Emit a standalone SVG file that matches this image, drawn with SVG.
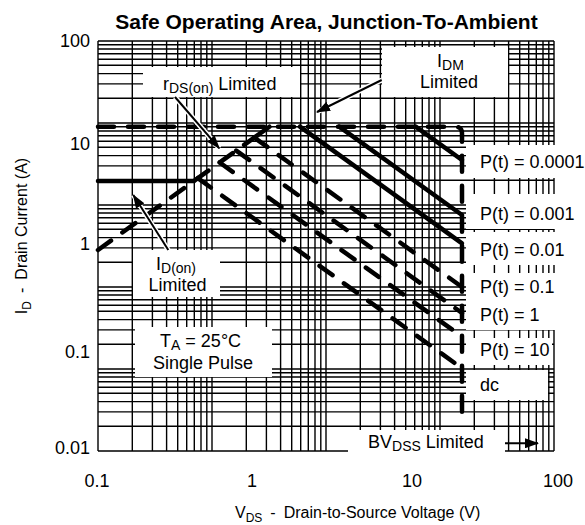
<svg xmlns="http://www.w3.org/2000/svg" width="585" height="525" viewBox="0 0 585 525">
<style>
.grid{stroke:#000;stroke-width:1.4;fill:none}
.c{stroke:#000;stroke-width:4.5;fill:none;stroke-linecap:round;stroke-linejoin:round}
.d{stroke-dasharray:16 14}
.box{fill:#fff;stroke:none}
.halo{stroke:#fff;stroke-width:5;fill:none}
.ar{stroke:#000;stroke-width:2;fill:none}
text{font-family:"Liberation Sans",Arial,Helvetica,sans-serif;font-size:18px;fill:#000}
.title{font-weight:bold;font-size:21px}
.sub{font-size:14px}
.axt{font-size:16px}
.axs{font-size:12px}
</style>
<defs>
<marker id="ah" markerUnits="userSpaceOnUse" markerWidth="14" markerHeight="10" refX="13" refY="5" orient="auto">
<path d="M0,0 L14,5 L0,10 z" fill="#000"/>
</marker>
</defs>
<rect width="585" height="525" fill="#fff"/>
<text class="title" x="326.5" y="29" text-anchor="middle">Safe Operating Area, Junction-To-Ambient</text>

<g id="grid">
<path class="grid" d="M98,41V451M132.3,41V451M152.4,41V451M166.6,41V451M177.7,41V451M186.7,41V451M194.3,41V451M201,41V451M206.8,41V451M212,41V451M246.3,41V451M266.4,41V451M280.6,41V451M291.7,41V451M300.7,41V451M308.3,41V451M315,41V451M320.8,41V451M326,41V451M360.3,41V451M380.4,41V451M394.6,41V451M405.7,41V451M414.7,41V451M422.3,41V451M429,41V451M434.8,41V451M440,41V451M474.3,41V451M494.4,41V451M508.6,41V451M519.7,41V451M528.7,41V451M536.3,41V451M543,41V451M548.8,41V451M554,41V451"/>
<path class="grid" d="M98,41H554M98,44.8H554M98,49H554M98,53.7H554M98,59.2H554M98,65.3H554M98,73.6H554M98,83.9H554M98,98.3H554M98,123H554M98,126.8H554M98,131H554M98,135.7H554M98,141.2H554M98,147.3H554M98,155.6H554M98,165.9H554M98,180.3H554M98,205H554M98,208.8H554M98,213H554M98,217.7H554M98,223.2H554M98,229.3H554M98,237.6H554M98,247.9H554M98,262.3H554M98,287H554M98,290.8H554M98,295H554M98,299.7H554M98,305.2H554M98,311.3H554M98,319.6H554M98,329.9H554M98,344.3H554M98,369H554M98,372.8H554M98,377H554M98,381.7H554M98,387.2H554M98,393.3H554M98,401.6H554M98,411.9H554M98,426.3H554M98,451H554"/>
</g>

<g id="axes-labels">
<text x="90" y="47.4" text-anchor="end">100</text>
<text x="90" y="149.5" text-anchor="end">10</text>
<text x="90" y="250" text-anchor="end">1</text>
<text x="90" y="358" text-anchor="end">0.1</text>
<text x="90" y="453.5" text-anchor="end">0.01</text>
<text x="97" y="486.5" text-anchor="middle">0.1</text>
<text x="252" y="486.5" text-anchor="middle">1</text>
<text x="412" y="486.5" text-anchor="middle">10</text>
<text x="558" y="486.5" text-anchor="middle">100</text>
<text class="axt" x="235" y="518">V<tspan class="axs" dy="4">DS</tspan><tspan dy="-4" dx="8">-</tspan><tspan dx="8">Drain-to-Source Voltage (V)</tspan></text>
<text class="axt" transform="translate(27,236) rotate(-90)" text-anchor="middle">I<tspan class="axs" dy="4">D</tspan><tspan dy="-4" dx="8">-</tspan><tspan dx="8">Drain Current (A)</tspan></text>
</g>

<g id="connectors">
<path id="idm-line" class="c d" d="M98,126.7 H455 Q462,126.7 462,133.7 V420"/>
<path id="idon-line" class="c" d="M98,181 H194"/>
<path id="rds-line" class="c d" d="M98,250 L254.3,137.6"/>
<path id="rds-top" class="c" d="M254.3,137.6 L269.4,126.7"/>
<path id="dc-line" class="c d" d="M197.8,178.2 L462,368.3"/>
<path id="p10-line" class="c d" d="M219.7,162.5 L462,336.7"/>
<path id="p1-line" class="c d" d="M236.2,150.6 L462,313"/>
<path id="p01-line" class="c d" d="M254.3,137.6 L462,287"/>
<path id="p001-line" class="c" d="M299.9,126.7 L462,243.3"/>
<path id="p0001-line" class="c" d="M339.2,126.7 L462,215"/>
<path id="p00001-line" class="c" d="M415.7,126.7 L462,160"/>
</g>

<g id="rds-label">
<rect class="box" x="143" y="67" width="157" height="30"/>
<text x="163" y="90">r<tspan class="sub" dy="3">DS(on)</tspan><tspan dy="-3"> Limited</tspan></text>
</g>
<g id="idm-label">
<rect class="box" x="382" y="47" width="126" height="50"/>
<text x="437" y="67">I<tspan class="sub" dy="3">DM</tspan></text>
<text x="449" y="88" text-anchor="middle">Limited</text>
</g>
<g id="idon-label">
<rect class="box" x="133" y="250" width="87" height="47"/>
<text x="156" y="270">I<tspan class="sub" dy="3">D(on)</tspan></text>
<text x="177.5" y="291" text-anchor="middle">Limited</text>
</g>
<g id="ta-label">
<rect class="box" x="135" y="327" width="137" height="50"/>
<text x="160" y="347">T<tspan class="sub" dy="3">A</tspan><tspan dy="-3"> = 25°C</tspan></text>
<text x="203" y="369" text-anchor="middle">Single Pulse</text>
</g>
<g id="p00001-label">
<rect class="box" x="466" y="145" width="119" height="33"/>
<text x="480" y="168">P(t) = 0.0001</text>
</g>
<g id="p0001-label">
<rect class="box" x="466" y="194" width="119" height="35"/>
<text x="480" y="219.7">P(t) = 0.001</text>
</g>
<g id="p001-label">
<rect class="box" x="466" y="232" width="119" height="33"/>
<text x="480" y="256.4">P(t) = 0.01</text>
</g>
<g id="p01-label">
<rect class="box" x="466" y="273" width="119" height="27"/>
<text x="480" y="293">P(t) = 0.1</text>
</g>
<g id="p1-label">
<rect class="box" x="466" y="300" width="119" height="30"/>
<text x="480" y="321.4">P(t) = 1</text>
</g>
<g id="p10-label">
<rect class="box" x="466" y="338" width="86" height="27"/>
<text x="480" y="356.4">P(t) = 10</text>
</g>
<g id="dc-label">
<rect class="box" x="466" y="370" width="82" height="30"/>
<text x="480" y="391.4">dc</text>
</g>
<g id="bvdss-label">
<rect class="box" x="348" y="430" width="157" height="23"/>
<text x="368" y="448">BV<tspan class="sub" dy="3">DSS</tspan><tspan dy="-3"> Limited</tspan></text>
</g>

<g id="arrows">
<path class="halo" d="M175,97 L219.3,148.3"/>
<path class="ar" d="M175,97 L219.3,148.3" marker-end="url(#ah)"/>
<path class="halo" d="M381.7,80 L317,112"/>
<path class="ar" d="M381.7,80 L317,112" marker-end="url(#ah)"/>
<path class="halo" d="M168.3,250 L133.3,195"/>
<path class="ar" d="M168.3,250 L133.3,195" marker-end="url(#ah)"/>
<path class="ar" d="M505,443.3 L538,443.3" marker-end="url(#ah)"/>
</g>
</svg>
